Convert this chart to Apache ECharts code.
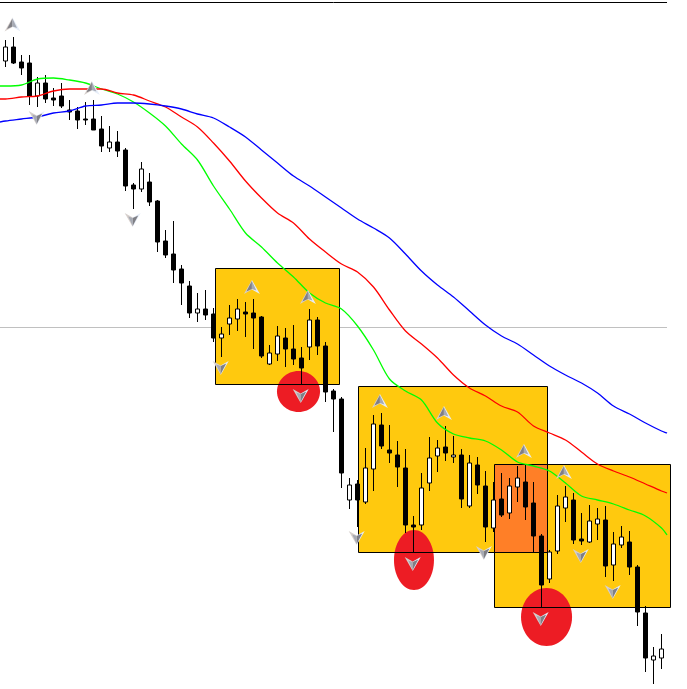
<!DOCTYPE html>
<html>
<head>
<meta charset="utf-8">
<style>html,body{margin:0;padding:0;background:#fff}#chart{width:687px;height:689px}</style>
<script src="https://cdn.jsdelivr.net/npm/echarts@6/dist/echarts.min.js"></script>
</head>
<body>
<div id="chart"></div>
<script>
// Candle values (chart level grows downwards, no price scale is shown)
const open = [61,47,62,63,96,83,98,96,110,111,119,119,129,148,142,150,185,189,182,201,241,254,269,286,313,309,314,338,324,319,312,313,317,364,354,338,349,358,347,320,346,391,399,500,484,502,469,425,450,455,468,525,525,483,456,447,457,455,506,465,486,528,499,513,487,482,503,536,579,551,508,500,539,542,524,520,565,545,542,567,613,660,658];
const close = [47,63,68,96,83,99,100,106,112,120,120,130,146,142,151,186,189,169,202,242,255,270,283,313,309,315,338,334,318,309,314,318,356,353,336,349,359,368,320,346,392,399,473,485,500,468,424,446,453,467,525,527,488,458,448,453,455,499,463,485,527,500,515,486,478,507,536,585,552,506,497,540,541,521,519,566,544,537,567,612,658,656,649];
const wickTop = [40,37,55,55,77,75,88,83,100,107,102,100,116,126,131,148,183,162,173,200,230,221,265,281,293,290,308,327,305,299,302,299,316,345,326,328,325,347,309,317,342,389,397,478,480,448,415,413,425,441,449,516,473,437,440,426,436,449,455,457,471,482,473,478,466,465,482,534,550,495,486,493,513,505,508,506,532,526,531,565,606,647,634];
const wickBottom = [67,64,75,105,107,103,106,108,120,129,125,130,152,152,157,191,209,192,206,252,258,283,305,318,322,320,342,357,335,331,337,349,358,365,361,367,365,384,360,355,402,432,488,509,527,504,491,449,463,487,533,553,530,491,472,461,463,508,508,494,542,532,517,519,502,520,553,607,583,554,522,544,545,543,540,577,581,548,575,626,672,684,669];

// Moving averages, read every second bar, plus the two ends of each line
const lineBars = [-0.6875,0,2,4,6,8,10,12,14,16,18,20,22,24,26,28,30,32,34,36,38,40,42,44,46,48,50,52,54,56,58,60,62,64,66,68,70,72,74,76,78,80,82,82.69];
const greenLine = [86,86,85,79,78,80,83,89,94,102,113,126,144,160,186,209,233,247,263,277,293,303,309,326,350,379,391,400,423,434,438,441,450,462,466,471,483,496,500,504,510,516,528,535];
const redLine = [99,99,97,96,91,89,89,89,93,95,101,107,117,127,143,161,181,198,213,223,239,252,264,272,287,310,331,344,358,375,388,396,406,412,426,433,440,452,464,471,477,484,491,493];
const blueLine = [122,121,119,117,113,111,106,105,103,103,104,106,109,114,118,127,137,150,163,176,186,197,208,219,228,238,254,271,285,297,311,325,336,344,355,366,375,383,393,406,414,423,431,433];

// Highlight boxes [left bar, top level, right bar, bottom level]
const boxes = [[26.25,268.5,41.75,384.5],[44.125,386.5,67.75,552.5],[61.125,464.5,83.125,607.5]];
const overlapBox = [[61.125,464.5,67.75,552.5]];
// Red ovals [centre bar, centre level, half width in bars, half height in levels]
const ovals = [[36.625,391.5,2.69,20.5],[51.06,560,2.5,30],[67.63,617,3.19,29]];
// Signal arrows [bar, level]
const upArrows = [[0.875,24.5],[10.8,88],[30.8,287],[37.8,297],[46.8,401],[54.8,413],[64.8,451],[69.8,472]];
const downArrows = [[3.9,118],[15.9,220],[26.9,368],[36.9,396],[43.9,538],[50.9,564],[59.8,553],[71.9,556],[75.9,592],[66.9,619]];
// Horizontal rules [level]
const topRule = 2.5;
const midRule = 327.5;
const lineEnd = 82.69;
const xMin = -0.6875, xMax = 85.1875;

const candleData = open.map((o, i) => [i, o, close[i], wickTop[i], wickBottom[i]]);
const pairs = ys => lineBars.map((b, i) => [b, ys[i]]);

function rectItem(fill, stroke) {
  return function (params, api) {
    const a = api.coord([api.value(0), api.value(1)]);
    const b = api.coord([api.value(2), api.value(3)]);
    return {
      type: 'rect',
      shape: { x: a[0], y: a[1], width: b[0] - a[0], height: b[1] - a[1] },
      style: { fill: fill, stroke: stroke, lineWidth: stroke ? 1 : 0 }
    };
  };
}
function ovalItem(params, api) {
  const c = api.coord([api.value(0), api.value(1)]);
  const e = api.coord([api.value(0) + api.value(2), api.value(1) + api.value(3)]);
  return {
    type: 'ellipse',
    shape: { cx: c[0], cy: c[1], rx: e[0] - c[0], ry: e[1] - c[1] },
    style: { fill: '#ED1C24' }
  };
}
function arrowItem(dir) {
  return function (params, api) {
    const c = api.coord([api.value(0), api.value(1)]);
    const p = (x, y) => [c[0] + dir * x, c[1] + dir * y];
    const poly = (pts, fill) => ({ type: 'polygon', shape: { points: pts }, style: { fill: fill } });
    return {
      type: 'group',
      children: [
        poly([p(0, -7), p(-8, 7), p(0, 2.5)], dir > 0 ? '#d6cfcc' : '#e6edf8'),
        poly([p(0, -7), p(8, 7), p(0, 2.5)], dir > 0 ? '#e6edf8' : '#d6cfcc'),
        poly([p(0, -6), p(-5.5, 4.5), p(0, 2)], '#7f7f85'),
        poly([p(0, -6), p(4.5, 3.5), p(0, 2)], '#a6aab4')
      ]
    };
  };
}
const customBase = { type: 'custom', silent: true, clip: false, encode: { x: 0, y: 1 } };
const lineSeries = (data, color, z, width, smooth) => ({
  type: 'line', data: data, z: z, symbol: 'none', silent: true, smooth: smooth,
  lineStyle: { color: color, width: width },
  emphasis: { disabled: true }
});

const chart = echarts.init(document.getElementById('chart'), null, { renderer: 'canvas' });
chart.setOption({
  animation: false,
  backgroundColor: '#ffffff',
  grid: { left: 0, right: 0, top: 0, bottom: 0 },
  tooltip: { show: false },
  xAxis: { type: 'value', min: xMin, max: xMax, show: false },
  yAxis: { type: 'value', min: 0, max: 689, inverse: true, show: false },
  series: [
    lineSeries([[xMin, midRule], [lineEnd, midRule]], '#c0c0c0', 1, 1, false),
    lineSeries([[xMin, topRule], [lineEnd, topRule]], '#000000', 1, 1, false),
    Object.assign({}, customBase, { z: 2, data: boxes, renderItem: rectItem('#FFC90E', null) }),
    Object.assign({}, customBase, { z: 3, data: overlapBox, renderItem: rectItem('#FF7F27', null) }),
    Object.assign({}, customBase, { z: 4, data: ovals, renderItem: ovalItem }),
    Object.assign({}, customBase, { z: 5, data: boxes, renderItem: rectItem('none', '#000000') }),
    {
      type: 'candlestick', z: 6, silent: true, barWidth: 4, clip: false,
      encode: { x: 0, y: [1, 2, 3, 4] },
      data: candleData,
      itemStyle: { color: '#000000', color0: '#ffffff', borderColor: '#000000', borderColor0: '#000000', borderWidth: 1 }
    },
    lineSeries(pairs(greenLine), '#00ff00', 7, 1.3, 0.3),
    lineSeries(pairs(redLine), '#ff0000', 7, 1.3, 0.3),
    lineSeries(pairs(blueLine), '#0000ff', 7, 1.3, 0.3),
    Object.assign({}, customBase, { z: 8, data: upArrows, renderItem: arrowItem(1) }),
    Object.assign({}, customBase, { z: 8, data: downArrows, renderItem: arrowItem(-1) })
  ]
});
</script>
</body>
</html>
